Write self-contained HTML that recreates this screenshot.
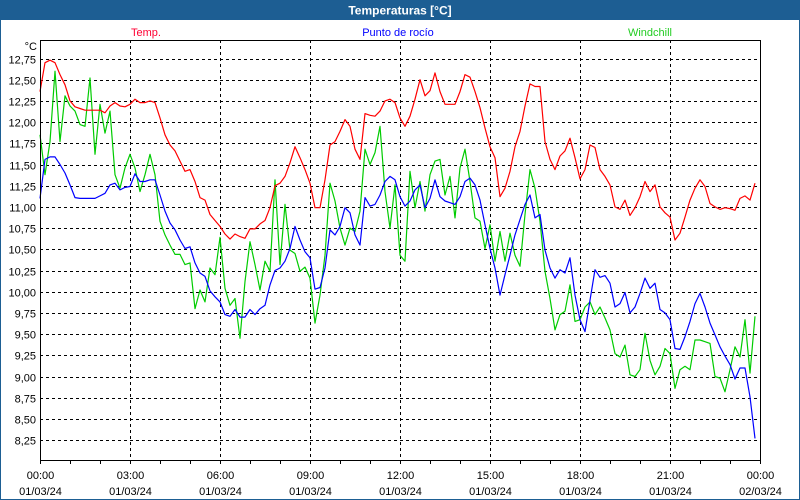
<!DOCTYPE html>
<html><head><meta charset="utf-8"><style>
html,body{margin:0;padding:0;background:#fff;}
#wrap{position:relative;width:800px;height:500px;overflow:hidden;font-family:"Liberation Sans",sans-serif;}
</style></head><body>
<div id="wrap">
<svg id="chart" width="800" height="500" xmlns="http://www.w3.org/2000/svg">
<rect x="0" y="0" width="800" height="500" fill="#fff"/>
<rect x="0.5" y="0.5" width="799" height="499" fill="none" stroke="#1d5e93"/>
<rect x="0" y="0" width="800" height="20" fill="#1d5e93"/>
<text x="400" y="14.5" text-anchor="middle" font-size="12" font-weight="bold" fill="#fff">Temperaturas [°C]</text>
<text x="146" y="36" text-anchor="middle" font-size="11" fill="#ff0033">Temp.</text>
<text x="398" y="36" text-anchor="middle" font-size="11" fill="#0000ff">Punto de rocío</text>
<text x="672" y="36" text-anchor="end" font-size="11" fill="#22cc22">Windchill</text>
<text x="37" y="50" text-anchor="end" font-size="11" fill="#000">°C</text>
<g id="grid"></g>
<g id="series"></g>
<g id="axes"></g>
</svg>
</div>
<script>
const yTicks = [12.75,12.5,12.25,12.0,11.75,11.5,11.25,11.0,10.75,10.5,10.25,10.0,9.75,9.5,9.25,9.0,8.75,8.5,8.25];
const xTickHours = [0,3,6,9,12,15,18,21,24];
const xTimeLabels = ["00:00","03:00","06:00","09:00","12:00","15:00","18:00","21:00","00:00"];
const xDateLabels = ["01/03/24","01/03/24","01/03/24","01/03/24","01/03/24","01/03/24","01/03/24","01/03/24","02/03/24"];
const stepMinutes = 10;
const tempValues = [12.36,12.70,12.73,12.70,12.56,12.44,12.25,12.18,12.16,12.14,12.14,12.14,12.14,12.11,12.19,12.23,12.19,12.18,12.21,12.27,12.23,12.23,12.25,12.23,12.05,11.85,11.73,11.66,11.54,11.42,11.44,11.30,11.11,11.08,10.91,10.84,
10.77,10.68,10.62,10.68,10.65,10.63,10.74,10.74,10.80,10.84,10.99,11.25,11.28,11.36,11.52,11.71,11.58,11.44,11.28,10.99,10.99,11.32,11.73,11.77,11.89,12.03,11.95,11.68,11.56,12.10,12.08,12.07,12.13,12.25,12.27,12.23,
12.05,11.95,12.07,12.27,12.50,12.31,12.37,12.58,12.36,12.21,12.21,12.21,12.36,12.56,12.53,12.36,12.17,11.93,11.71,11.58,11.12,11.22,11.42,11.71,11.89,12.19,12.45,12.42,12.42,11.77,11.56,11.44,11.60,11.66,11.81,11.58,
11.33,11.44,11.73,11.70,11.44,11.36,11.26,11.00,10.97,11.08,10.90,10.99,11.12,11.30,11.18,11.26,11.00,10.93,10.88,10.61,10.69,10.88,11.08,11.22,11.32,11.24,11.04,11.00,10.97,10.99,10.98,10.96,11.10,11.13,11.08,11.28];
const dewValues = [11.10,11.56,11.59,11.59,11.50,11.40,11.26,11.11,11.10,11.10,11.10,11.10,11.13,11.16,11.26,11.28,11.20,11.23,11.24,11.39,11.30,11.30,11.32,11.32,11.14,10.95,10.81,10.73,10.61,10.51,10.53,10.34,10.22,10.18,10.01,9.94,
9.88,9.73,9.71,9.79,9.70,9.70,9.79,9.73,9.80,9.84,10.08,10.25,10.28,10.36,10.51,10.77,10.61,10.47,10.40,10.03,10.05,10.28,10.73,10.67,10.77,10.99,10.93,10.67,10.55,11.11,11.01,11.03,11.14,11.30,11.36,11.32,
11.12,11.01,11.07,11.20,11.26,10.99,11.10,11.32,11.12,11.07,11.05,11.03,11.12,11.30,11.34,11.26,11.08,10.79,10.51,10.28,9.96,10.20,10.43,10.67,10.85,11.03,11.14,10.87,10.91,10.49,10.28,10.16,10.26,10.22,10.40,9.96,
9.67,9.53,9.90,10.26,10.17,10.19,10.10,9.82,9.86,9.99,9.75,9.82,9.98,10.16,10.04,10.10,9.79,9.75,9.67,9.33,9.32,9.47,9.65,9.86,9.98,9.82,9.63,9.49,9.35,9.24,9.14,8.97,9.10,9.10,8.76,8.27];
const windchillValues = [11.85,11.38,11.77,12.60,11.77,12.31,12.19,12.13,11.97,11.95,12.52,11.62,12.21,11.87,12.13,11.38,11.22,11.46,11.62,11.46,11.18,11.38,11.62,11.38,10.83,10.67,10.55,10.44,10.44,10.32,10.34,9.80,10.02,9.88,10.28,10.20,
10.64,10.04,9.84,9.92,9.45,10.12,10.59,10.32,10.02,10.36,10.24,11.32,10.32,11.03,10.49,10.45,10.24,10.29,10.16,9.63,9.96,10.43,11.28,11.07,10.75,10.55,10.75,10.71,10.95,11.68,11.50,11.64,11.95,11.18,10.75,11.26,
10.43,10.36,11.42,10.99,11.30,10.95,11.38,11.54,11.56,11.14,11.36,10.87,11.46,11.68,11.30,10.87,10.83,10.51,10.79,10.36,10.71,10.36,10.69,10.43,10.30,10.91,11.44,11.22,10.83,10.24,9.92,9.55,9.73,9.77,10.08,9.65,
9.67,9.82,9.88,9.73,9.82,9.69,9.55,9.27,9.23,9.37,9.02,9.00,9.08,9.51,9.19,9.02,9.12,9.33,9.27,8.86,9.08,9.12,9.08,9.43,9.43,9.41,9.39,9.00,8.98,8.82,9.08,9.35,9.23,9.67,9.04,9.71];

const NS = "http://www.w3.org/2000/svg";
const PL = 40, PR = 760, PT = 40, PB = 460;
function yScale(v){ return 58.5 + (12.75 - v) * 84.8; }
function xScale(h){ return PL + (h / 24) * (PR - PL); }
function mk(tag, attrs, parent){ const e = document.createElementNS(NS, tag); for (const k in attrs) e.setAttribute(k, attrs[k]); parent.appendChild(e); return e; }

const grid = document.getElementById('grid');
const axes = document.getElementById('axes');
const series = document.getElementById('series');

yTicks.forEach(function(v){
  const y = Math.round(yScale(v)) + 0.5;
  const l = mk('line', {x1:PL, x2:PR, y1:y, y2:y, stroke:'#000', 'stroke-dasharray':'3,3'}, grid);
  
  
  const t = mk('text', {x:36, y:y+4, 'text-anchor':'end', 'font-size':'11', fill:'#000'}, axes);
  t.textContent = v.toFixed(2).replace('.', ',');
  
  
});

xTickHours.forEach(function(h, i){
  const x = Math.round(xScale(h)) + 0.5;
  if (i > 0 && i < xTickHours.length - 1) {
    const l = mk('line', {x1:x, x2:x, y1:PT, y2:PB + 4, stroke:'#000', 'stroke-dasharray':'3,3'}, grid);
    
    
  }
  const t1 = mk('text', {x:x, y:479, 'text-anchor':'middle', 'font-size':'11', fill:'#000'}, axes);
  t1.textContent = xTimeLabels[i];
  
  
  const t2 = mk('text', {x:x, y:495, 'text-anchor':'middle', 'font-size':'11', fill:'#000'}, axes);
  t2.textContent = xDateLabels[i];
  
  
});
for (let h = 0; h <= 24; h++) {
  const x = Math.round(xScale(h)) + 0.5;
  const tk = mk('line', {x1:x, x2:x, y1:PB, y2:PB + 4, stroke:'#000'}, axes);
  
  
}
const frame = mk('rect', {x:PL + 0.5, y:PT + 0.5, width:PR - PL, height:PB - PT, fill:'none', stroke:'#000'}, axes);



function drawSeries(vals, color, name){
  const pts = vals.map(function(v, i){ return xScale(i * stepMinutes / 60).toFixed(1) + ',' + yScale(v).toFixed(1); }).join(' ');
  const p = mk('polyline', {points:pts, fill:'none', stroke:color, 'stroke-width':'1.2', 'stroke-linejoin':'round'}, series);
  
  
}
drawSeries(windchillValues, '#00cc00', 'windchill-line');
drawSeries(dewValues, '#0000ff', 'dew-point-line');
drawSeries(tempValues, '#ff0000', 'temp-line');
</script>
</body></html>
